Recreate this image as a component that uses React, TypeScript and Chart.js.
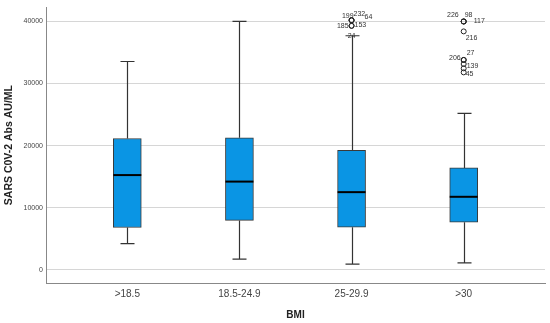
import React, { useEffect, useRef } from "react";
import { Chart, registerables } from "chart.js";

Chart.register(...registerables);

// ---- data ----
const categories = [">18.5", "18.5-24.9", "25-29.9", ">30"];
const whiskerLow = [4200, 1700, 900, 1100];
const q1 = [6800, 7950, 6850, 7650];
const median = [15250, 14200, 12500, 11750];
const q3 = [21150, 21250, 19250, 16400];
const whiskerHigh = [33550, 40000, 37700, 25200];

// outliers (category index, value, case label)
const outlierCategory = [2, 2, 2, 2, 2, 2, 3, 3, 3, 3, 3, 3, 3, 3, 3];
const outlierValue = [40200, 40200, 40200, 39300, 39300, 37700, 40000, 40000, 40000, 38400, 33800, 33800, 33150, 32450, 31800];
const outlierLabel = ["199", "232", "64", "185", "153", "24", "226", "98", "117", "216", "206", "27", "139", "", "45"];

const yTicks = [0, 10000, 20000, 30000, 40000];

// ---- styling for labels (offsets in px, alignment) ----
const labelStyle: { dx: number; dy: number; align: CanvasTextAlign }[] = [
  { dx: 2, dy: -4, align: "right" },
  { dx: 2, dy: -6, align: "left" },
  { dx: 13, dy: -3, align: "left" },
  { dx: -3, dy: 0, align: "right" },
  { dx: 3, dy: -1, align: "left" },
  { dx: 0, dy: 0, align: "center" },
  { dx: -5, dy: -6, align: "right" },
  { dx: 1, dy: -6, align: "left" },
  { dx: 10, dy: 0, align: "left" },
  { dx: 2, dy: 7, align: "left" },
  { dx: -3, dy: -1.5, align: "right" },
  { dx: 3, dy: -7, align: "left" },
  { dx: 3, dy: 2, align: "left" },
  { dx: 0, dy: 0, align: "left" },
  { dx: 2, dy: 2, align: "left" },
];
const outlierRadius = outlierLabel.map((l) => (l === "24" ? 0 : 2.5));

const BOX_W = 28;
const CAP_W = 14;

const boxPlugin = {
  id: "boxParts",
  beforeDatasetsDraw(chart: any) {
    const { ctx, scales } = chart;
    const x = scales.x, y = scales.y;
    ctx.save();
    ctx.strokeStyle = "#333";
    ctx.lineWidth = 1.2;
    categories.forEach((_, i) => {
      const cx = Math.round(x.getPixelForValue(i + 1)) + 0.5;
      const lo = y.getPixelForValue(whiskerLow[i]);
      const hi = y.getPixelForValue(whiskerHigh[i]);
      const b1 = y.getPixelForValue(q1[i]);
      const b3 = y.getPixelForValue(q3[i]);
      ctx.beginPath();
      ctx.moveTo(cx, lo);
      ctx.lineTo(cx, b1);
      ctx.moveTo(cx, b3);
      ctx.lineTo(cx, hi);
      ctx.moveTo(cx - CAP_W / 2, lo);
      ctx.lineTo(cx + CAP_W / 2, lo);
      ctx.moveTo(cx - CAP_W / 2, hi);
      ctx.lineTo(cx + CAP_W / 2, hi);
      ctx.stroke();
    });
    ctx.restore();
  },
  afterDatasetsDraw(chart: any) {
    const { ctx, scales } = chart;
    const x = scales.x, y = scales.y;
    ctx.save();
    ctx.strokeStyle = "#000";
    ctx.lineWidth = 2;
    categories.forEach((_, i) => {
      const cx = x.getPixelForValue(i + 1);
      const m = y.getPixelForValue(median[i]);
      ctx.beginPath();
      ctx.moveTo(cx - BOX_W / 2, m);
      ctx.lineTo(cx + BOX_W / 2, m);
      ctx.stroke();
    });
    ctx.fillStyle = "#333";
    ctx.font = "7px 'Liberation Sans', Arial, sans-serif";
    ctx.textBaseline = "middle";
    outlierLabel.forEach((lab, k) => {
      if (!lab) return;
      const s = labelStyle[k];
      const px = x.getPixelForValue(outlierCategory[k] + 1) + s.dx;
      const py = y.getPixelForValue(outlierValue[k]) + s.dy;
      ctx.textAlign = s.align;
      ctx.fillText(lab, px, py);
    });
    ctx.restore();
  },
};

export default function App() {
  const ref = useRef<HTMLCanvasElement | null>(null);
  useEffect(() => {
    if (!ref.current) return;
    const chart = new Chart(ref.current, {
      type: "bar",
      data: {
        datasets: [
          {
            type: "bar",
            data: categories.map((_, i) => ({ x: i + 1, y: [q1[i], q3[i]] })) as any,
            backgroundColor: "#0A95E4",
            borderColor: "#3a3a3a",
            borderWidth: 1,
            borderSkipped: false,
            barThickness: BOX_W,
            order: 2,
          } as any,
          {
            type: "scatter",
            data: outlierValue.map((v, k) => ({ x: outlierCategory[k] + 1, y: v })),
            pointRadius: outlierRadius,
            pointBackgroundColor: "rgba(255,255,255,0)",
            pointBorderColor: "#222",
            pointBorderWidth: 1,
            showLine: false,
            order: 1,
          } as any,
        ],
      },
      options: {
        animation: false,
        responsive: true,
        maintainAspectRatio: false,
        layout: { padding: { top: 3, right: 4, left: 0, bottom: 0 } },
        plugins: { legend: { display: false }, tooltip: { enabled: false } },
        scales: {
          x: {
            type: "linear",
            min: 0.275,
            max: 4.725,
            offset: false,
            grid: { display: false, drawTicks: false },
            border: { color: "#888", width: 1 },
            afterBuildTicks: (s: any) => {
              s.ticks = categories.map((_, i) => ({ value: i + 1 }));
            },
            afterFit: (s: any) => {
              s.height = 40;
            },
            ticks: {
              padding: 5,
              color: "#444",
              font: { family: "'Liberation Sans', Arial, sans-serif", size: 10 },
              callback: (v: any) => categories[Number(v) - 1] ?? "",
              maxRotation: 0,
              autoSkip: false,
            },
            title: {
              display: true,
              text: "BMI",
              color: "#222",
              font: { family: "'Liberation Sans', Arial, sans-serif", size: 10, weight: "bold" },
              padding: { top: 0, bottom: 2 },
            },
          },
          y: {
            type: "linear",
            min: -2140,
            max: 42300,
            grid: { color: "#d6d6d6", lineWidth: 1, drawTicks: false },
            border: { color: "#888", width: 1 },
            afterBuildTicks: (s: any) => {
              s.ticks = yTicks.map((v) => ({ value: v }));
            },
            afterFit: (s: any) => {
              s.width = 46;
            },
            ticks: {
              padding: 3,
              color: "#444",
              font: { family: "'Liberation Sans', Arial, sans-serif", size: 7 },
              callback: (v: any) => String(v),
            },
            title: {
              display: true,
              text: "SARS C0V-2 Abs AU/ML",
              color: "#222",
              font: { family: "'Liberation Sans', Arial, sans-serif", size: 10.5, weight: "bold" },
              padding: { top: 3, bottom: 0 },
            },
          },
        },
      } as any,
      plugins: [boxPlugin],
    });
    return () => chart.destroy();
  }, []);
  return (
    <div style={{ position: "fixed", left: 0, top: 0, width: 550, height: 323, background: "#fff" }}>
      <canvas ref={ref} />
    </div>
  );
}
